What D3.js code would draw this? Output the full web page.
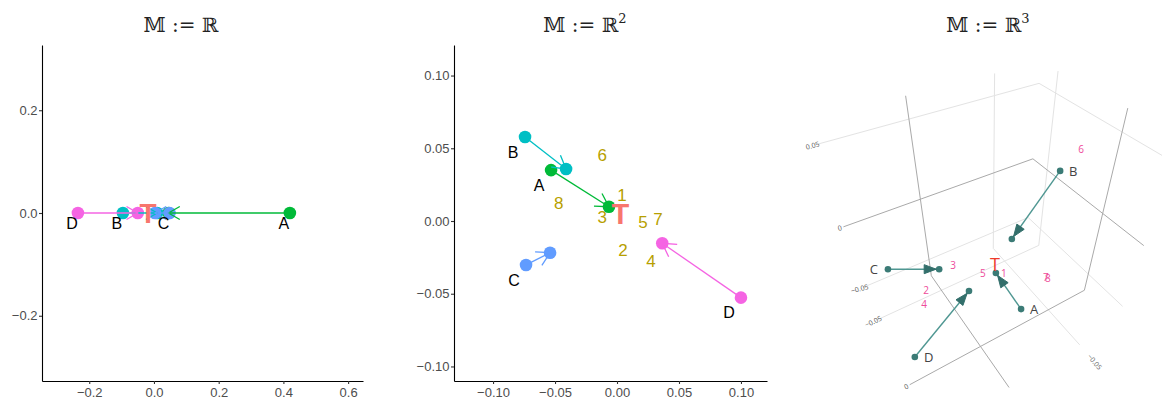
<!DOCTYPE html>
<html><head><meta charset="utf-8">
<script src="https://cdn.jsdelivr.net/npm/d3@7"></script>
<style>body{margin:0;background:#fff} svg{display:block}</style>
</head><body>
<svg id="chart" width="1162" height="405"></svg>
<script>
// ---------- DATA ----------
const pointNames = ["A", "B", "C", "D"];
const pointColors = ["#00BA38", "#00BFC4", "#619CFF", "#F564E3"];
const targetLabel = "T";
const targetColor = "#F8766D";
const numLabels = ["1", "2", "3", "4", "5", "6", "7", "8"];
const numberColor = "#B79F00";
const titleBase = "𝕄 := ℝ";
const titleSup = ["", "2", "3"];

// Panel 1: M = R (1-D positions)
const r1Start = [0.42, -0.096, 0.048, -0.235];
const r1End = [0.045, 0.01, 0.003, -0.05];
const r1Target = -0.0185;
const r1XTicks = [-0.2, 0, 0.2, 0.4, 0.6];
const r1YTicks = [-0.2, 0, 0.2];

// Panel 2: M = R^2
const r2StartX = [-0.0532, -0.0742, -0.0734, 0.100];
const r2StartY = [0.035, 0.0577, -0.0302, -0.0527];
const r2EndX = [-0.0065, -0.0411, -0.054, 0.0365];
const r2EndY = [0.0098, 0.0357, -0.0218, -0.0153];
const r2Target = [0.0028, 0.0048];
const r2NumX = [0.004, 0.0048, -0.012, 0.0274, 0.021, -0.012, 0.033, -0.047];
const r2NumY = [0.018, -0.0199, 0.0027, -0.0275, -0.0007, 0.0453, 0.0014, 0.0124];
const r2Ticks = [-0.10, -0.05, 0, 0.05, 0.10];

// Panel 3: M = R^3 (scene axes + projected image-plane positions of marks)
const r3Ticks = [-0.05, 0, 0.05];
const r3XRange = [-0.08, 0.045];
const r3YRange = [-0.065, 0.03];
const r3ZRange = [-0.066, 0.062];
const r3StartPX = [0.074, 0.167, -0.243, -0.179];
const r3StartPY = [-0.174, 0.155, -0.079, -0.288];
const r3EndPX = [0.014, 0.052, -0.121, -0.050];
const r3EndPY = [-0.088, -0.007, -0.079, -0.131];
const r3TargetP = [0.012, -0.069];
const r3NumPX = [0.033, -0.152, -0.088, -0.157, -0.017, 0.217, 0.133, 0.138];
const r3NumPY = [-0.090, -0.129, -0.069, -0.162, -0.088, 0.207, -0.098, -0.102];

// ---------- DRAWING ----------
const svg = d3.select("#chart");
const sans = "'Liberation Sans', Arial, Helvetica, sans-serif";

function arrowPath(xa, ya, xb, yb, len, ang) {
  const a = Math.atan2(yb - ya, xb - xa);
  const p1 = [xb - len * Math.cos(a - ang), yb - len * Math.sin(a - ang)];
  const p2 = [xb - len * Math.cos(a + ang), yb - len * Math.sin(a + ang)];
  return `M${p1[0]},${p1[1]}L${xb},${yb}L${p2[0]},${p2[1]}`;
}

function title(x, sup) {
  const t = svg.append("text").attr("x", x).attr("y", 32).attr("text-anchor", "middle")
    .attr("font-family", "'DejaVu Serif','DejaVu Sans',serif").attr("font-size", 20)
    .attr("fill", "#222");
  t.append("tspan").text(titleBase);
  if (sup) t.append("tspan").attr("font-size", 13).attr("dy", -9).text(sup);
}

function styleAxis(g) {
  g.select(".domain").attr("stroke", "#000").attr("stroke-width", 1.1);
  g.selectAll(".tick line").attr("stroke", "#333").attr("stroke-width", 1.1);
  g.selectAll(".tick text").attr("fill", "#4D4D4D").attr("font-size", 13).attr("font-family", sans);
}

function drawAxes(x, y, xt, yt, fmt, box) {
  const gx = svg.append("g").attr("transform", `translate(0,${box.bottom})`)
    .call(d3.axisBottom(x).tickValues(xt).tickFormat(d3.format(fmt)).tickSize(3).tickSizeOuter(0).tickPadding(4));
  styleAxis(gx);
  const gy = svg.append("g").attr("transform", `translate(${box.left},0)`)
    .call(d3.axisLeft(y).tickValues(yt).tickFormat(d3.format(fmt)).tickSize(3).tickSizeOuter(0).tickPadding(1.5));
  styleAxis(gy);
}

// ---- Panel 1 ----
const b1 = {left: 42, right: 363, top: 45, bottom: 381};
const x1 = d3.scaleLinear().domain([-0.346, 0.646]).range([b1.left, b1.right]);
const y1 = d3.scaleLinear().domain([-0.327, 0.327]).range([b1.bottom, b1.top]);
title(181, titleSup[0]);
drawAxes(x1, y1, r1XTicks, r1YTicks, ".1f", b1);
const g1 = svg.append("g");
pointNames.forEach((n, i) => {
  g1.append("circle").attr("cx", x1(r1Start[i])).attr("cy", y1(0)).attr("r", 6.3).attr("fill", pointColors[i]);
  g1.append("circle").attr("cx", x1(r1End[i])).attr("cy", y1(0)).attr("r", 6.3).attr("fill", pointColors[i]);
});
pointNames.forEach((n, i) => {
  const xa = x1(r1Start[i]), xb = x1(r1End[i]), yy = y1(0);
  g1.append("line").attr("x1", xa).attr("y1", yy).attr("x2", xb).attr("y2", yy)
    .attr("stroke", pointColors[i]).attr("stroke-width", 1.3);
  g1.append("path").attr("d", arrowPath(xa, yy, xb, yy, 13, Math.PI / 6))
    .attr("fill", "none").attr("stroke", pointColors[i]).attr("stroke-width", 1.3);
});
g1.append("text").attr("x", x1(r1Target)).attr("y", y1(0)).attr("dy", "0.36em")
  .attr("text-anchor", "middle").attr("font-family", sans).attr("font-weight", "bold")
  .attr("font-size", 28).attr("fill", targetColor).text(targetLabel);
pointNames.forEach((n, i) => {
  g1.append("text").attr("x", x1(r1Start[i]) - 6).attr("y", y1(0) + 10).attr("dy", "0.36em")
    .attr("text-anchor", "middle").attr("font-family", sans).attr("font-size", 16).attr("fill", "#000").text(n);
});

// ---- Panel 2 ----
const b2 = {left: 454, right: 767, top: 45, bottom: 381};
const x2 = d3.scaleLinear().domain([-0.1315, 0.121]).range([b2.left, b2.right]);
const y2 = d3.scaleLinear().domain([-0.110, 0.121]).range([b2.bottom, b2.top]);
title(585, titleSup[1]);
drawAxes(x2, y2, r2Ticks, r2Ticks, ".2f", b2);
const g2 = svg.append("g");
numLabels.forEach((n, i) => {
  g2.append("text").attr("x", x2(r2NumX[i])).attr("y", y2(r2NumY[i])).attr("dy", "0.36em")
    .attr("text-anchor", "middle").attr("font-family", sans).attr("font-size", 17)
    .attr("fill", numberColor).text(n);
});
pointNames.forEach((n, i) => {
  g2.append("circle").attr("cx", x2(r2StartX[i])).attr("cy", y2(r2StartY[i])).attr("r", 6.3).attr("fill", pointColors[i]);
  g2.append("circle").attr("cx", x2(r2EndX[i])).attr("cy", y2(r2EndY[i])).attr("r", 6.3).attr("fill", pointColors[i]);
});
pointNames.forEach((n, i) => {
  const xa = x2(r2StartX[i]), ya = y2(r2StartY[i]), xb = x2(r2EndX[i]), yb = y2(r2EndY[i]);
  g2.append("line").attr("x1", xa).attr("y1", ya).attr("x2", xb).attr("y2", yb)
    .attr("stroke", pointColors[i]).attr("stroke-width", 1.3);
  g2.append("path").attr("d", arrowPath(xa, ya, xb, yb, 15, Math.PI / 6))
    .attr("fill", "none").attr("stroke", pointColors[i]).attr("stroke-width", 1.3);
});
g2.append("text").attr("x", x2(r2Target[0])).attr("y", y2(r2Target[1])).attr("dy", "0.36em")
  .attr("text-anchor", "middle").attr("font-family", sans).attr("font-weight", "bold")
  .attr("font-size", 29).attr("fill", targetColor).text(targetLabel);
pointNames.forEach((n, i) => {
  g2.append("text").attr("x", x2(r2StartX[i]) - 12).attr("y", y2(r2StartY[i]) + 15).attr("dy", "0.36em")
    .attr("text-anchor", "middle").attr("font-family", sans).attr("font-size", 16).attr("fill", "#000").text(n);
});

// ---- Panel 3 (perspective scene) ----
title(988, titleSup[2]);
const cam = {az: 58 * Math.PI / 180, el: 43 * Math.PI / 180, dist: 3.5, worldScale: 16, center: [-0.0175, -0.0175, 0]};
function project(x, y, z) {
  const rx = (x - cam.center[0]) * cam.worldScale, ry = (y - cam.center[1]) * cam.worldScale, rz = (z - cam.center[2]) * cam.worldScale;
  const ca = Math.cos(cam.az), sa = Math.sin(cam.az), ce = Math.cos(cam.el), se = Math.sin(cam.el);
  const depth = cam.dist - (rx * ce * ca + ry * ce * sa + rz * se);
  const rr = -rx * sa + ry * ca;
  const uu = -rx * se * ca - ry * se * sa + rz * ce;
  return [rr / depth, uu / depth];
}
const x3 = d3.scaleLinear().domain([0, 1]).range([990, 1410]);
const y3 = d3.scaleLinear().domain([0, 1]).range([236, -184]);
const g3 = svg.append("g");
function seg3(p, q, color) {
  const a = project(...p), b = project(...q);
  g3.append("line").attr("x1", x3(a[0])).attr("y1", y3(a[1])).attr("x2", x3(b[0])).attr("y2", y3(b[1]))
    .attr("stroke", color).attr("stroke-width", 1);
}
const gridC = "#e3e3e3", zeroC = "#a9a9a9";
const [xa0, xa1] = r3XRange, [ya0, ya1] = r3YRange, [za0, za1] = r3ZRange;
const inR = (t, r) => t >= r[0] && t <= r[1];
[false, true].forEach(zeroPass => {
  r3Ticks.forEach(t => {
    if ((t === 0) !== zeroPass) return;
    const c = t === 0 ? zeroC : gridC;
    if (inR(t, r3ZRange)) {
      seg3([xa1, ya0, t], [xa0, ya0, t], c);
      seg3([xa0, ya0, t], [xa0, ya1, t], c);
    }
    if (inR(t, r3XRange)) {
      seg3([t, ya0, za1], [t, ya0, za0], c);
      seg3([t, ya0, za0], [t, ya1, za0], c);
    }
    if (inR(t, r3YRange)) {
      seg3([xa0, t, za1], [xa0, t, za0], c);
      seg3([xa0, t, za0], [xa1, t, za0], c);
    }
  });
});
const tickFmt3 = t => t === 0 ? "0" : d3.format(".2f")(t);
function tick3(pos, txt, anchor, rot) {
  const p = project(...pos);
  const px = x3(p[0]), py = y3(p[1]);
  if (py > 398 || px > 1150) return; // outside the scene viewport
  g3.append("text").attr("x", px).attr("y", py).attr("dy", "0.35em").attr("text-anchor", anchor)
    .attr("transform", `rotate(${rot},${px},${py})`)
    .attr("font-family", "'Open Sans', sans-serif").attr("font-size", 7).attr("fill", "#555").text(txt);
}
r3Ticks.forEach(t => {
  if (inR(t, r3ZRange)) tick3([xa1 + 0.002, ya0, t], tickFmt3(t), "middle", -15);
  if (inR(t, r3YRange)) tick3([xa1 + 0.002, t, za0], tickFmt3(t), "middle", -25);
  if (inR(t, r3XRange)) tick3([t, ya1 + 0.008, za0], tickFmt3(t), "start", 50);
});
const lineC3 = "#4f9792", dotC3 = "#3b7b76", coneC3 = "#336f6b";
pointNames.forEach((n, i) => {
  const xa = x3(r3StartPX[i]), ya = y3(r3StartPY[i]), xb = x3(r3EndPX[i]), yb = y3(r3EndPY[i]);
  g3.append("line").attr("x1", xa).attr("y1", ya).attr("x2", xb).attr("y2", yb)
    .attr("stroke", lineC3).attr("stroke-width", 1.4);
  g3.append("circle").attr("cx", xa).attr("cy", ya).attr("r", 3.3).attr("fill", dotC3);
  g3.append("circle").attr("cx", xb).attr("cy", yb).attr("r", 3.3).attr("fill", dotC3);
  const a = Math.atan2(yb - ya, xb - xa), ux = Math.cos(a), uy = Math.sin(a);
  const tipX = xb - 3 * ux, tipY = yb - 3 * uy, bx = xb - 15 * ux, by = yb - 15 * uy;
  g3.append("path").attr("d", `M${tipX},${tipY}L${bx - 4.5 * uy},${by + 4.5 * ux}L${bx + 4.5 * uy},${by - 4.5 * ux}Z`)
    .attr("fill", coneC3).attr("stroke", coneC3).attr("stroke-width", 1).attr("stroke-linejoin", "round");
});
numLabels.forEach((n, i) => {
  g3.append("text").attr("x", x3(r3NumPX[i])).attr("y", y3(r3NumPY[i])).attr("dy", "0.36em")
    .attr("text-anchor", "middle").attr("font-family", "'Open Sans', sans-serif").attr("font-size", 10)
    .attr("fill", "#EE4B9A").text(n);
});
g3.append("text").attr("x", x3(r3TargetP[0])).attr("y", y3(r3TargetP[1])).attr("dy", "0.36em")
  .attr("text-anchor", "middle").attr("font-family", "'Open Sans', sans-serif").attr("font-size", 18)
  .attr("fill", "#EE3A2A").text(targetLabel);
const labelDx3 = [13, 13, -14, 14];
pointNames.forEach((n, i) => {
  g3.append("text").attr("x", x3(r3StartPX[i]) + labelDx3[i]).attr("y", y3(r3StartPY[i])).attr("dy", "0.36em")
    .attr("text-anchor", "middle").attr("font-family", "'Open Sans', sans-serif").attr("font-size", 13)
    .attr("fill", "#444").text(n);
});
</script>
</body></html>
